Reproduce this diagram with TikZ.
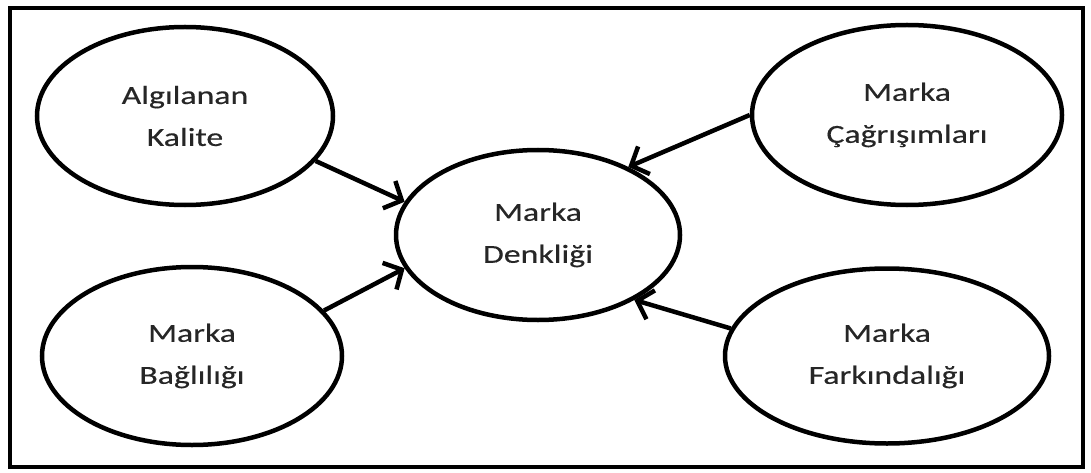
\documentclass[tikz,border=0pt]{standalone}
\usepackage{fontspec}
\setmainfont{Carlito}[FakeStretch=1.3,FakeBold=0.4]
\usetikzlibrary{arrows.meta,shapes.geometric}
\tikzset{
  line/.style={-{Straight Barb[length=14pt,width=30pt]}, line width=4.5pt},
  oval/.style={draw, ellipse, line width=4.5pt, align=center, inner sep=0pt,
    text=black!85, font=\fontsize{26}{42}\selectfont},
  frame/.style={draw, line width=3.5pt}
}

\begin{document}
\begin{tikzpicture}[x=1pt,y=1pt]
  \useasboundingbox (0,0) rectangle (1091,472);
  \draw[frame] (10,5) rectangle (1083,464);
  % centre
  \node[oval, minimum width=284pt, minimum height=170pt] (MD) at (538,237) {Marka\\Denkliği};
  % sources
  \node[oval, minimum width=296pt, minimum height=178pt] (AK) at (185,356) {Algılanan\\Kalite};
  \node[oval, minimum width=300pt, minimum height=178pt] (MB) at (192,116) {Marka\\Bağlılığı};
  \node[oval, minimum width=310pt, minimum height=180pt] (MC) at (907,357) {Marka\\Çağrışımları};
  \node[oval, minimum width=324pt, minimum height=175pt] (MF) at (887,116) {Marka\\Farkındalığı};
  \draw[line] (AK.-19) -- (MD.166);
  \draw[line] (MB.19) -- (MD.194);
  \draw[line] (MC.180) -- (MD.37);
  \draw[line] (MF.170) -- (MD.-34);
\end{tikzpicture}
\end{document}
